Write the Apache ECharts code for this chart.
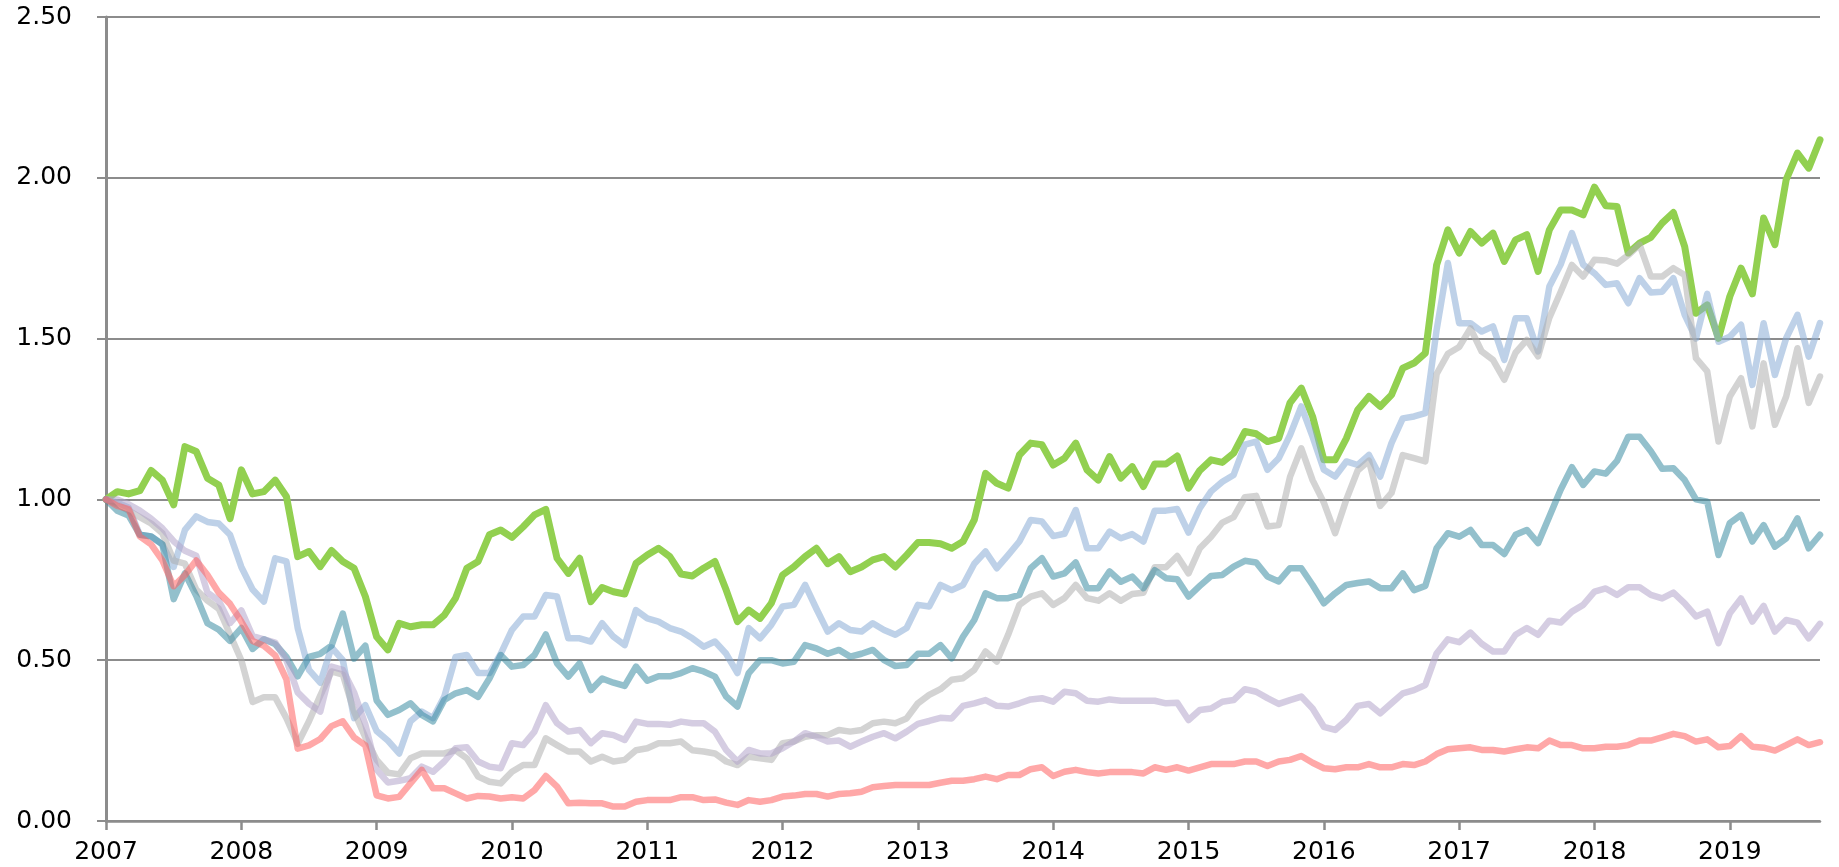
<!DOCTYPE html>
<html>
<head>
<meta charset="utf-8">
<script src="https://cdn.jsdelivr.net/npm/echarts@6/dist/echarts.min.js"></script>
<style>
    html, body { margin: 0; padding: 0; background: #fff; }
    #chart { width: 1839px; height: 867px; }
</style>
</head>
<body>
<div id="chart"></div>
<script>
//月度数据 2007-01 到 2019-09
var firstYear = 2007;
var lastYear = 2019;
var lastMonth = 9;

var yTicks = [0, 0.5, 1, 1.5, 2, 2.5];

var green = [
    1.00, 1.024, 1.017, 1.027, 1.09, 1.06, 0.983, 1.164, 1.149, 1.066, 1.045, 0.94,
    1.092, 1.017, 1.024, 1.06, 1.009, 0.822, 0.838, 0.791, 0.841, 0.807, 0.786, 0.698,
    0.573, 0.532, 0.615, 0.604, 0.61, 0.61, 0.64, 0.693, 0.786, 0.807, 0.89, 0.905,
    0.882, 0.915, 0.952, 0.969, 0.817, 0.77, 0.817, 0.682, 0.726, 0.713, 0.706, 0.801,
    0.827, 0.848, 0.822, 0.768, 0.762, 0.786, 0.807, 0.718, 0.62, 0.656, 0.63, 0.677,
    0.765, 0.79, 0.822, 0.848, 0.80, 0.822, 0.775, 0.79, 0.812, 0.822, 0.79, 0.827,
    0.866, 0.866, 0.862, 0.848, 0.869, 0.936, 1.081, 1.05, 1.035, 1.138, 1.175, 1.17,
    1.107, 1.128, 1.175, 1.092, 1.06, 1.133, 1.066, 1.102, 1.04, 1.11, 1.11, 1.135,
    1.035, 1.09, 1.123, 1.115, 1.144, 1.211, 1.204, 1.18, 1.19, 1.30, 1.346, 1.258,
    1.123, 1.123, 1.19, 1.278, 1.32, 1.289, 1.325, 1.408, 1.424, 1.455, 1.729, 1.838,
    1.766, 1.833, 1.797, 1.828, 1.74, 1.807, 1.823, 1.709, 1.838, 1.90, 1.90, 1.885,
    1.971, 1.913, 1.911, 1.766, 1.797, 1.815, 1.859, 1.892, 1.786, 1.579, 1.605, 1.501,
    1.631, 1.719, 1.639, 1.875, 1.792, 1.994, 2.077, 2.03, 2.118
];
var lightBlue = [
    1.00, 0.99, 0.975, 0.89, 0.885, 0.86, 0.79, 0.905, 0.947, 0.93, 0.925, 0.89,
    0.79, 0.72, 0.682, 0.817, 0.807, 0.60, 0.47, 0.43, 0.54, 0.50, 0.32, 0.36,
    0.28, 0.25, 0.21, 0.31, 0.34, 0.32, 0.387, 0.51, 0.516, 0.46, 0.46, 0.52,
    0.594, 0.636, 0.636, 0.703, 0.698, 0.568, 0.568, 0.558, 0.615, 0.573, 0.547, 0.656,
    0.63, 0.62, 0.60, 0.589, 0.568, 0.542, 0.558, 0.52, 0.46, 0.60, 0.568, 0.61,
    0.667, 0.672, 0.734, 0.66, 0.589, 0.615, 0.594, 0.589, 0.615, 0.594, 0.579, 0.60,
    0.672, 0.667, 0.734, 0.718, 0.734, 0.80, 0.838, 0.786, 0.827, 0.869, 0.936, 0.931,
    0.886, 0.893, 0.967, 0.848, 0.848, 0.90, 0.879, 0.892, 0.869, 0.965, 0.965, 0.97,
    0.897, 0.973, 1.025, 1.055, 1.076, 1.17, 1.18, 1.092, 1.128, 1.20, 1.289, 1.195,
    1.092, 1.071, 1.118, 1.107, 1.138, 1.071, 1.175, 1.252, 1.258, 1.268, 1.527, 1.735,
    1.548, 1.548, 1.522, 1.538, 1.434, 1.563, 1.563, 1.46, 1.662, 1.73, 1.828, 1.73,
    1.703, 1.667, 1.672, 1.61, 1.688, 1.643, 1.646, 1.688, 1.574, 1.50, 1.639, 1.49,
    1.506, 1.543, 1.356, 1.548, 1.387, 1.501, 1.574, 1.444, 1.548
];
var gray = [
    1.00, 0.985, 0.965, 0.945, 0.925, 0.895, 0.81, 0.80, 0.72, 0.685, 0.66, 0.58,
    0.50, 0.37, 0.385, 0.385, 0.32, 0.24, 0.31, 0.39, 0.465, 0.455, 0.34, 0.26,
    0.19, 0.15, 0.145, 0.195, 0.21, 0.21, 0.21, 0.22, 0.195, 0.138, 0.122, 0.117,
    0.153, 0.174, 0.174, 0.257, 0.236, 0.216, 0.216, 0.185, 0.20, 0.185, 0.19, 0.22,
    0.226, 0.242, 0.242, 0.247, 0.22, 0.216, 0.21, 0.185, 0.174, 0.20, 0.195, 0.19,
    0.242, 0.247, 0.262, 0.267, 0.267, 0.283, 0.278, 0.283, 0.304, 0.309, 0.304, 0.319,
    0.366, 0.392, 0.41, 0.439, 0.444, 0.47, 0.527, 0.496, 0.579, 0.672, 0.698, 0.708,
    0.672, 0.693, 0.734, 0.693, 0.685, 0.708, 0.685, 0.706, 0.71, 0.789, 0.789, 0.824,
    0.77, 0.848, 0.884, 0.928, 0.945, 1.007, 1.011, 0.916, 0.92, 1.07, 1.159, 1.06,
    0.99, 0.895, 1.00, 1.09, 1.12, 0.98, 1.02, 1.138, 1.128, 1.118, 1.39, 1.453,
    1.474, 1.532, 1.46, 1.434, 1.372, 1.456, 1.496, 1.445, 1.565, 1.645, 1.729, 1.693,
    1.745, 1.743, 1.733, 1.76, 1.792, 1.693, 1.693, 1.719, 1.698, 1.439, 1.398, 1.18,
    1.32, 1.377, 1.227, 1.423, 1.232, 1.32, 1.47, 1.30, 1.382
];
var teal = [
    1.00, 0.965, 0.95, 0.89, 0.885, 0.86, 0.69, 0.77, 0.70, 0.615, 0.595, 0.56,
    0.60, 0.535, 0.565, 0.55, 0.51, 0.45, 0.51, 0.52, 0.545, 0.645, 0.505, 0.545,
    0.375, 0.33, 0.345, 0.366, 0.33, 0.31, 0.376, 0.397, 0.407, 0.386, 0.443, 0.516,
    0.48, 0.485, 0.516, 0.58, 0.49, 0.449, 0.49, 0.407, 0.443, 0.43, 0.42, 0.48,
    0.436, 0.45, 0.45, 0.46, 0.475, 0.465, 0.449, 0.387, 0.356, 0.46, 0.50, 0.50,
    0.49, 0.495, 0.547, 0.537, 0.52, 0.532, 0.511, 0.52, 0.532, 0.50, 0.482, 0.485,
    0.52, 0.52, 0.547, 0.506, 0.573, 0.625, 0.708, 0.693, 0.693, 0.703, 0.786, 0.817,
    0.76, 0.77, 0.804, 0.724, 0.724, 0.776, 0.744, 0.76, 0.724, 0.78, 0.755, 0.752,
    0.698, 0.731, 0.762, 0.765, 0.791, 0.809, 0.804, 0.76, 0.745, 0.786, 0.786, 0.734,
    0.677, 0.708, 0.734, 0.74, 0.745, 0.724, 0.724, 0.77, 0.718, 0.731, 0.848, 0.895,
    0.884, 0.905, 0.858, 0.858, 0.83, 0.89, 0.905, 0.864, 0.947, 1.03, 1.10, 1.045,
    1.087, 1.08, 1.12, 1.195, 1.195, 1.15, 1.095, 1.097, 1.06, 1.00, 0.993, 0.827,
    0.926, 0.952, 0.869, 0.92, 0.853, 0.879, 0.941, 0.848, 0.89
];
var lavender = [
    1.00, 1.00, 0.985, 0.965, 0.94, 0.91, 0.87, 0.84, 0.825, 0.71, 0.685, 0.615,
    0.655, 0.575, 0.565, 0.555, 0.50, 0.40, 0.365, 0.34, 0.48, 0.47, 0.40, 0.30,
    0.16, 0.12, 0.125, 0.133, 0.169, 0.153, 0.185, 0.226, 0.229, 0.185, 0.169, 0.164,
    0.242, 0.236, 0.278, 0.36, 0.304, 0.278, 0.283, 0.242, 0.273, 0.267, 0.252, 0.309,
    0.302, 0.302, 0.299, 0.309, 0.304, 0.304, 0.278, 0.221, 0.185, 0.221, 0.21, 0.21,
    0.226, 0.247, 0.273, 0.262, 0.247, 0.25, 0.231, 0.247, 0.262, 0.273, 0.257, 0.278,
    0.302, 0.311, 0.321, 0.319, 0.358, 0.366, 0.376, 0.358, 0.356, 0.366, 0.378, 0.382,
    0.371, 0.402, 0.397, 0.374, 0.371, 0.378, 0.374, 0.374, 0.374, 0.374, 0.366, 0.368,
    0.314, 0.345, 0.35, 0.371, 0.376, 0.41, 0.402, 0.382, 0.364, 0.376, 0.387, 0.35,
    0.293, 0.283, 0.314, 0.358, 0.364, 0.335, 0.366, 0.397, 0.407, 0.423, 0.521, 0.565,
    0.556, 0.586, 0.551, 0.527, 0.527, 0.579, 0.60, 0.579, 0.623, 0.617, 0.651, 0.672,
    0.713, 0.723, 0.703, 0.727, 0.727, 0.703, 0.692, 0.71, 0.677, 0.636, 0.651, 0.553,
    0.646, 0.692, 0.62, 0.669, 0.589, 0.625, 0.617, 0.568, 0.613
];
var pink = [
    1.00, 0.98, 0.97, 0.885, 0.86, 0.81, 0.73, 0.765, 0.81, 0.765, 0.71, 0.675,
    0.62, 0.56, 0.545, 0.515, 0.44, 0.225, 0.235, 0.255, 0.295, 0.31, 0.26, 0.235,
    0.08, 0.07, 0.075, 0.117, 0.159, 0.102, 0.102, 0.086, 0.07, 0.078, 0.076, 0.07,
    0.074, 0.07, 0.096, 0.14, 0.107, 0.055, 0.057, 0.055, 0.055, 0.045, 0.045, 0.06,
    0.065, 0.065, 0.065, 0.074, 0.074, 0.065, 0.067, 0.057, 0.05, 0.065, 0.06, 0.065,
    0.076, 0.079, 0.084, 0.084, 0.076, 0.084, 0.086, 0.091, 0.105, 0.109, 0.112, 0.112,
    0.112, 0.112, 0.119, 0.125, 0.125, 0.13, 0.138, 0.13, 0.143, 0.143, 0.161, 0.167,
    0.14, 0.153, 0.159, 0.152, 0.148, 0.152, 0.152, 0.152, 0.148, 0.167, 0.159, 0.167,
    0.157, 0.167, 0.177, 0.177, 0.177, 0.185, 0.185, 0.171, 0.185, 0.19, 0.202, 0.181,
    0.164, 0.161, 0.167, 0.167, 0.177, 0.167, 0.167, 0.177, 0.174, 0.185, 0.208, 0.223,
    0.226, 0.229, 0.221, 0.221, 0.216, 0.223, 0.229, 0.226, 0.25, 0.236, 0.236, 0.226,
    0.226, 0.231, 0.231, 0.236, 0.25, 0.25, 0.26, 0.271, 0.264, 0.247, 0.254, 0.229,
    0.233, 0.264, 0.231, 0.228, 0.219, 0.236, 0.254, 0.236, 0.245
];

var appChart = {
    chart: null,
    axisColor: '#8c8c8c',
    fontFamily: '"DejaVu Sans", Verdana, sans-serif',
    init: function init() {
        var that = this;
        that.chart = echarts.init(document.getElementById('chart'), null, { renderer: 'canvas' });
        that.chart.setOption(that.getOption());
    },
    //月份类目
    getCategories: function getCategories() {
        var cats = [];
        for (var y = firstYear; y <= lastYear; y++) {
            for (var m = 1; m <= 12; m++) {
                if (y === lastYear && m > lastMonth) {
                    break;
                }
                cats.push(y + '-' + (m < 10 ? '0' + m : m));
            }
        }
        return cats;
    },
    line: function line(data, color, width, opacity) {
        return {
            type: 'line',
            data: data,
            symbol: 'none',
            smooth: false,
            lineStyle: {
                color: color,
                width: width,
                opacity: opacity,
                cap: 'round',
                join: 'round'
            },
            emphasis: { disabled: true }
        };
    },
    getOption: function getOption() {
        var that = this;
        var isJan = function (index) { return index % 12 === 0; };
        return {
            animation: false,
            grid: { left: 106, right: 19, top: 17, bottom: 46, containLabel: false },
            xAxis: {
                type: 'category',
                boundaryGap: false,
                data: that.getCategories(),
                axisLine: { lineStyle: { color: that.axisColor, width: 2.5 } },
                axisTick: {
                    show: true,
                    interval: isJan,
                    length: 9,
                    lineStyle: { color: that.axisColor, width: 2.5 }
                },
                axisLabel: {
                    interval: isJan,
                    margin: 19,
                    color: '#000',
                    fontFamily: that.fontFamily,
                    fontSize: 25,
                    formatter: function (value) { return value.substring(0, 4); }
                },
                splitLine: { show: false }
            },
            yAxis: {
                type: 'value',
                min: yTicks[0],
                max: yTicks[yTicks.length - 1],
                interval: 0.5,
                axisLine: { show: true, lineStyle: { color: that.axisColor, width: 3 } },
                axisTick: { show: true, length: 9, lineStyle: { color: that.axisColor, width: 2 } },
                axisLabel: {
                    margin: 34,
                    color: '#000',
                    fontFamily: that.fontFamily,
                    fontSize: 25,
                    formatter: function (v) { return v.toFixed(2); }
                },
                splitLine: { show: true, lineStyle: { color: that.axisColor, width: 2 } }
            },
            series: [
                that.line(green, '#92D050', 7, 1),
                that.line(lightBlue, '#89ABD5', 6.5, 0.55),
                that.line(gray, '#AFAFAF', 6.5, 0.55),
                that.line(teal, '#3B8CA2', 6.5, 0.55),
                that.line(lavender, '#B3A4CA', 6.5, 0.55),
                that.line(pink, '#FF6161', 6.5, 0.55)
            ]
        };
    }
};
window.onload = function () {
    appChart.init();
};
</script>
</body>
</html>
